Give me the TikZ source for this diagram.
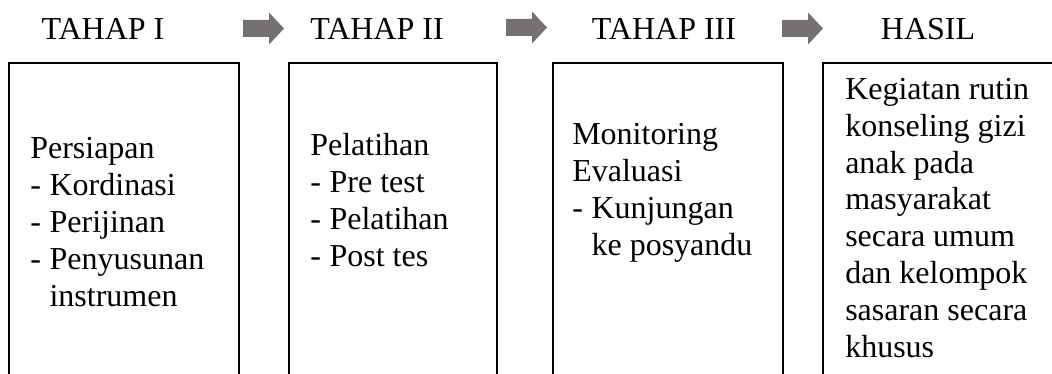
\documentclass[tikz,border=0pt]{standalone}
\usepackage{fontspec}
\setmainfont{Liberation Serif}
\usetikzlibrary{calc}
\definecolor{arrowgray}{RGB}{118,113,113}
\newcommand{\itm}[1]{\makebox[14.5pt][l]{-}#1}
\newcommand{\ind}{\hspace*{14.5pt}}
\newcommand{\fatarrow}[1]{%
  \fill[arrowgray] (#1) ++(0,-8.5) -- ++(26,0) -- ++(0,-7.5) -- ++(15,16)
    -- ++(-15,16) -- ++(0,-7.5) -- ++(-26,0) -- cycle;}
\tikzset{
  stage/.style={anchor=base, inner sep=0pt, font=\fontsize{24}{27.6}\selectfont},
  boxtext/.style={anchor=base west, inner sep=0pt, align=left, font=\fontsize{24}{27.6}\selectfont},
  boxline/.style={draw=black, line width=1.5pt}
}
\begin{document}
\begin{tikzpicture}[x=0.75pt, y=-0.75pt]
	\useasboundingbox[clip] (0,0) rectangle (1052,374);
	%Titles of the stages
	\coordinate (t1) at (103,40);
	\coordinate (t2) at (377,40);
	\coordinate (t3) at (664,40);
	\coordinate (t4) at (928,40);
	\node [stage] (tahap1) at (t1) {TAHAP I};
	\node [stage] (tahap2) at (t2) {TAHAP II};
	\node [stage] (tahap3) at (t3) {TAHAP III};
	\node [stage] (hasil) at (t4) {HASIL};
	%Grey arrows between the titles
	\coordinate (a1) at (243,28.5);
	\coordinate (a2) at (506,27.5);
	\coordinate (a3) at (782,28.5);
	\fatarrow{a1}
	\fatarrow{a2}
	\fatarrow{a3}
	%Boxes, open at the bottom of the page
	\draw [boxline] (9,63) rectangle (239,420);
	\draw [boxline] (289,63) rectangle (497,420);
	\draw [boxline] (553,63) rectangle (783,420);
	\draw [boxline] (823,63) rectangle (1070,420);
	%Text in the boxes (base west sits on the last line)
	\node [boxtext] (isi1) at (30,306) {Persiapan\\ \itm{Kordinasi}\\ \itm{Perijinan}\\ \itm{Penyusunan}\\ \ind instrumen};
	\node [boxtext] (isi2) at (310,266) {Pelatihan\\ \itm{Pre test}\\ \itm{Pelatihan}\\ \itm{Post tes}};
	\node [boxtext] (isi3) at (572,255) {Monitoring\\ Evaluasi\\ \itm{Kunjungan}\\ \ind ke posyandu};
	\node [boxtext] (isi4) at (845,357) {Kegiatan rutin\\ konseling gizi\\ anak pada\\ masyarakat\\ secara umum\\ dan kelompok\\ sasaran secara\\ khusus};
\end{tikzpicture}
\end{document}
